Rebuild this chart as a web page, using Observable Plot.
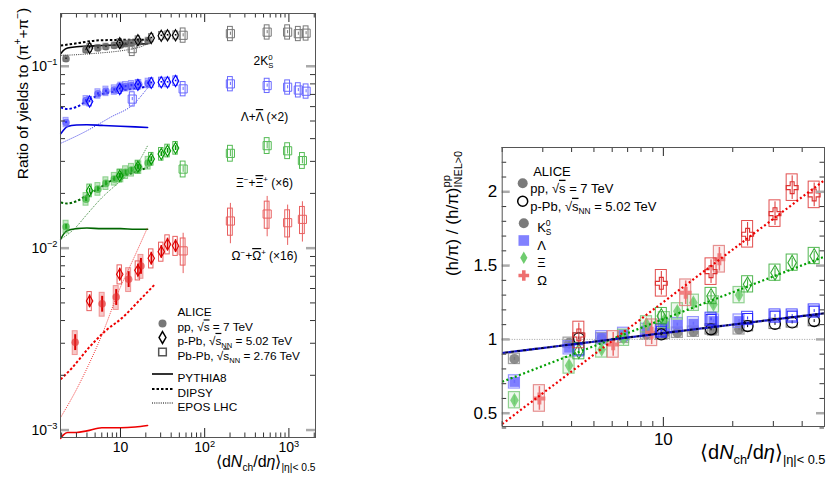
<!DOCTYPE html>
<html><head><meta charset="utf-8">
<script src="https://cdn.jsdelivr.net/npm/d3@7"></script>
<script src="https://cdn.jsdelivr.net/npm/@observablehq/plot@0.6"></script>
<style>
body{margin:0;background:#fff;}
#wrap{position:relative;width:826px;height:477px;overflow:hidden;}
#left{position:absolute;left:0;top:0;}
#right{position:absolute;left:410px;top:0;}
svg text{font-family:'Liberation Sans',Arial,Helvetica,sans-serif;}
</style></head><body><div id="wrap"><div id="left"></div><div id="right"></div></div>
<script>
// ================= DATA (left panel: ratio of yields to pions) =================
const ppMult = [2.26, 3.90, 5.40, 6.72, 8.45, 10.1, 11.5, 13.5, 16.5, 21.3];
const ppMultOmega = [2.9, 6.06, 8.9, 12.5, 17.5];
const pPbMult = [4.3, 9.8, 16.1, 23.2, 30.5, 36.2, 45.1];
const PbPbMult = [13.8, 55.5, 202, 552, 966, 1294, 1601];
const PbPbMultMS = [55.5, 202, 552, 966, 1447];

const k0s_pp = [0.110, 0.123, 0.126, 0.128, 0.130, 0.131, 0.133, 0.134, 0.136, 0.138];
const k0s_pPb = [0.126, 0.134, 0.139, 0.143, 0.147, 0.148, 0.148];
const k0s_PbPb = [0.125, 0.148, 0.151, 0.154, 0.154, 0.151, 0.152];
const lam_pp = [0.0491, 0.0647, 0.0705, 0.0729, 0.0741, 0.0767, 0.0773, 0.0783, 0.0793, 0.0806];
const lam_pPb = [0.064, 0.075, 0.079, 0.081, 0.0816, 0.0816, 0.083];
const lam_PbPb = [0.066, 0.0751, 0.080, 0.0783, 0.0767, 0.074, 0.0729];
const xi_pp = [0.0131, 0.0186, 0.0211, 0.0227, 0.0240, 0.0250, 0.0261, 0.0269, 0.0278, 0.0294];
const xi_pPb = [0.0207, 0.025, 0.028, 0.0309, 0.0329, 0.0343, 0.0355];
const xi_PbPb = [0.0272, 0.0332, 0.0366, 0.0343, 0.0303];
const om_pp = [0.00304, 0.00494, 0.00538, 0.00675, 0.00798];
const om_pPb = [0.00512, 0.00718, 0.00755, 0.00879, 0.00957, 0.0105, 0.0103];
const om_PbPb = [0.00966, 0.0141, 0.0154, 0.0138, 0.0144];

// model curves
const pythiaX = [1.95, 2.1, 2.35, 3.0, 4.0, 6.0, 10, 15, 21];
const pythia_k0s = [0.117, 0.122, 0.126, 0.128, 0.129, 0.130, 0.131, 0.132, 0.133];
const pythia_lam = [0.0425, 0.0445, 0.0466, 0.0475, 0.0477, 0.0473, 0.0468, 0.0464, 0.0461];
const pythia_xi = [0.0112, 0.0119, 0.0125, 0.0128, 0.0129, 0.0128, 0.0128, 0.0127, 0.0127];
const pythia_om = [0.00090, 0.00094, 0.00097, 0.00097, 0.00099, 0.00103, 0.00103, 0.00104, 0.00106];

const dipsyX_k0s = [1.95, 2.8, 5.8, 21];
const dipsy_k0s = [0.130, 0.133, 0.139, 0.140];
const dipsyX_lam = [1.95, 2.33, 3.06, 4.03, 5.79, 9.1, 21];
const dipsy_lam = [0.0594, 0.0582, 0.0600, 0.0647, 0.0699, 0.0728, 0.0773];
const dipsyX_xi = [1.95, 2.33, 3.06, 4.03, 5.79, 9.1, 14.4, 21];
const dipsy_xi = [0.0178, 0.0176, 0.0182, 0.0196, 0.0216, 0.0245, 0.0260, 0.0278];
const dipsyX_om = [1.95, 2.67, 4.2, 6.6, 10.5, 16.5, 26];
const dipsy_om = [0.0019, 0.0022, 0.00283, 0.0035, 0.00414, 0.00512, 0.00637];

const eposX_k0s = [1.95, 4.2, 16.5, 21];
const epos_k0s = [0.1146, 0.117, 0.127, 0.133];
const eposX_lam = [1.95, 3.67, 7.6, 14.4, 21];
const epos_lam = [0.0377, 0.0433, 0.0524, 0.0621, 0.0760];
const eposX_xi = [1.95, 2.8, 4.03, 5.79, 10, 14.4, 21];
const epos_xi = [0.0112, 0.0127, 0.0154, 0.0186, 0.0234, 0.0272, 0.0366];
const eposX_om = [1.95, 2.92, 4.2, 6.06, 9.55, 15.1, 21];
const epos_om = [0.001175, 0.00163, 0.00229, 0.00336, 0.00581, 0.00925, 0.0130];

// ================= DATA (right panel: double ratios) =================
const rK0S_pp = [0.868, 0.977, 1.007, 1.011, 1.034, 1.038, 1.045, 1.052, 1.061, 1.068];
const rLam_pp = [0.712, 0.943, 1.011, 1.034, 1.061, 1.090, 1.100, 1.106, 1.124, 1.124];
const rXi_pp = [0.588, 0.823, 0.932, 1.011, 1.102, 1.130, 1.190, 1.248, 1.237, 1.300];
const rOm_pp = [0.600, 0.966, 1.045, 1.316, 1.543];
const rK0S_pPb = [1.007, 1.034, 1.068, 1.090, 1.105, 1.115, 1.124];
const rLam_pPb = [0.930, 1.056, 1.136, 1.142, 1.158, 1.158, 1.192];
const rXi_pPb = [0.920, 1.158, 1.294, 1.373, 1.452, 1.520, 1.565];
const rOm_pPb = [1.030, 1.380, 1.459, 1.712, 1.852, 2.028, 1.979];
const fitMult = [2, 50];
const fitOm = [0.427, 2.079];
const fitXi = [0.713, 1.561];
const fitK0SLam = [0.908, 1.177];

// tick labels
const leftXTicks = [10, 100, 1000];
const leftYTicks = [0.001, 0.01, 0.1];
const rightXTicks = [10];
const rightYTicks = [0.5, 1, 1.5, 2];

// ================= helpers =================
const FONT = "'Liberation Sans', Arial, Helvetica, sans-serif";
function parseRich(s) {
  const out = []; let buf = ""; let i = 0;
  while (i < s.length) {
    const c = s[i];
    if ("_^~!".includes(c) && s[i + 1] === "{") {
      if (buf) { out.push({t: buf, k: ""}); buf = ""; }
      const j = s.indexOf("}", i + 2);
      out.push({t: s.slice(i + 2, j), k: c});
      i = j + 1;
    } else { buf += c; i++; }
  }
  if (buf) out.push({t: buf, k: ""});
  return out;
}
function richify(svg) {
  svg.querySelectorAll("text").forEach(el => {
    const s = el.textContent;
    if (!/[_^~!]\{/.test(s)) return;
    const segs = parseRich(s);
    const fs = parseFloat(getComputedStyle(el).fontSize) || 12;
    el.textContent = "";
    let cur = 0, prev = null, prevW = 0;
    for (const seg of segs) {
      const t = document.createElementNS("http://www.w3.org/2000/svg", "tspan");
      t.textContent = seg.t;
      let target = 0;
      if (seg.k === "_") { target = 0.25 * fs; t.setAttribute("font-size", 0.64 * fs); }
      else if (seg.k === "^") { target = -0.42 * fs; t.setAttribute("font-size", 0.66 * fs); }
      else if (seg.k === "~") t.setAttribute("font-style", "italic");
      else if (seg.k === "!") t.setAttribute("text-decoration", "overline");
      if (target !== cur) t.setAttribute("dy", target - cur);
      cur = target;
      if (seg.k === "_" && prev && prev.k === "^") t.setAttribute("dx", -prevW);
      el.appendChild(t);
      prevW = t.getComputedTextLength();
      prev = seg;
    }
  });
}
function logMinor(lo, hi) {
  const out = [];
  for (let k = -5; k <= 4; k++) for (let m = 2; m <= 9; m++) {
    const v = m * 10 ** k; if (v >= lo && v <= hi) out.push(v);
  }
  return out;
}
function tickRules(xMaj, xMin, yMaj, yMin, fw, fh, L) {
  return [
    Plot.ruleX(xMaj, {insetTop: fh - L.xMaj, stroke: "#222"}),
    Plot.ruleX(xMaj, {insetBottom: fh - L.xMaj, stroke: "#222"}),
    Plot.ruleX(xMin, {insetTop: fh - L.xMin, stroke: "#333"}),
    Plot.ruleX(xMin, {insetBottom: fh - L.xMin, stroke: "#333"}),
    Plot.ruleY(yMaj, {insetRight: fw - L.yMaj, stroke: "#aaa", strokeWidth: 2.5}),
    Plot.ruleY(yMaj, {insetLeft: fw - L.yMaj, stroke: "#aaa", strokeWidth: 2.5}),
    Plot.ruleY(yMin, {insetRight: fw - L.yMin, stroke: "#333"}),
    Plot.ruleY(yMin, {insetLeft: fw - L.yMin, stroke: "#333"})
  ];
}
const pts = (xs, ys) => xs.map((x, i) => ({x, y: ys[i]}));
const butt = {strokeLinecap: "butt", strokeLinejoin: "miter"};

// ================= LEFT PANEL =================
const L = {w: 330, h: 477, l: 60, r: 15, t: 13, b: 40};
const fwL = L.w - L.l - L.r, fhL = L.h - L.t - L.b;
const yDomL = [0.00091, 0.195];
const decL = 84.2; // px per decade (for box half-widths)
const speciesL = [
  {col: "#000000", ppCol: "#505050", boxCol: "#777777", ppX: ppMult, pp: k0s_pp, pPb: k0s_pPb, PbPbX: PbPbMult, PbPb: k0s_PbPb, sys: [0.04, 0.05, 0.09], stat: [0.01, 0.01, 0.02]},
  {col: "#0000ff", ppCol: "#4a4aff", boxCol: "#6a6aff", ppX: ppMult, pp: lam_pp, pPb: lam_pPb, PbPbX: PbPbMult, PbPb: lam_PbPb, sys: [0.06, 0.06, 0.09], stat: [0.015, 0.01, 0.02]},
  {col: "#009900", ppCol: "#33b033", boxCol: "#55bb55", ppX: ppMult, pp: xi_pp, pPb: xi_pPb, PbPbX: PbPbMultMS, PbPb: xi_PbPb, sys: [0.08, 0.08, 0.1], stat: [0.03, 0.03, 0.04]},
  {col: "#dd0000", ppCol: "#e33030", boxCol: "#e86060", ppX: ppMultOmega, pp: om_pp, pPb: om_pPb, PbPbX: PbPbMultMS, PbPb: om_PbPb, sys: [0.15, 0.12, 0.17], stat: [0.1, 0.08, 0.25]}
];
const modelsL = [
  {col: "#000000", p: [pythiaX, pythia_k0s], d: [dipsyX_k0s, dipsy_k0s], e: [eposX_k0s, epos_k0s]},
  {col: "#0000dd", p: [pythiaX, pythia_lam], d: [dipsyX_lam, dipsy_lam], e: [eposX_lam, epos_lam]},
  {col: "#006600", p: [pythiaX, pythia_xi], d: [dipsyX_xi, dipsy_xi], e: [eposX_xi, epos_xi]},
  {col: "#ee0000", p: [pythiaX, pythia_om], d: [dipsyX_om, dipsy_om], e: [eposX_om, epos_om]}
];
const marksL = [];
for (const m of modelsL) {
  marksL.push(Plot.line(pts(...m.e), {x: "x", y: "y", stroke: m.col, strokeWidth: 1, strokeDasharray: "1,1.2", curve: "monotone-x", strokeOpacity: 0.8, ...butt}));
  marksL.push(Plot.line(pts(...m.d), {x: "x", y: "y", stroke: m.col, strokeWidth: 2, strokeDasharray: "2.5,2", curve: "monotone-x", ...butt}));
  marksL.push(Plot.line(pts(...m.p), {x: "x", y: "y", stroke: m.col, strokeWidth: 1.6, curve: "monotone-x"}));
}
for (const s of speciesL) {
  const sets = [
    {d: pts(s.ppX, s.pp), hw: 2.5},
    {d: pts(pPbMult, s.pPb), hw: 2.2},
    {d: pts(s.PbPbX, s.PbPb), hw: 2.4}
  ];
  // pp: translucent filled boxes, filled circles
  const a = sets[0], fa = 10 ** (a.hw / decL);
  marksL.push(Plot.rect(a.d, {x1: d => d.x / fa, x2: d => d.x * fa, y1: d => d.y * (1 - s.sys[0]), y2: d => d.y * (1 + s.sys[0]), fill: s.boxCol, fillOpacity: 0.35, stroke: s.boxCol, strokeOpacity: 0.6}));
  marksL.push(Plot.ruleX(a.d, {x: "x", y1: d => d.y * (1 - s.stat[0]), y2: d => d.y * (1 + s.stat[0]), stroke: s.col, strokeWidth: 2}));
  marksL.push(Plot.dot(a.d, {x: "x", y: "y", r: 3.8, fill: s.ppCol, fillOpacity: 0.65}));
  // p-Pb: open boxes, open diamonds
  const b = sets[1], fb = 10 ** (b.hw / decL);
  marksL.push(Plot.rect(b.d, {x1: d => d.x / fb, x2: d => d.x * fb, y1: d => d.y * (1 - s.sys[1]), y2: d => d.y * (1 + s.sys[1]), fill: "none", stroke: s.boxCol, strokeWidth: 1}));
  marksL.push(Plot.ruleX(b.d, {x: "x", y1: d => d.y * (1 - s.stat[1]), y2: d => d.y * (1 + s.stat[1]), stroke: s.col, strokeWidth: 1.5}));
  marksL.push(Plot.dot(b.d, {x: "x", y: "y", r: 3.4, symbol: "diamond", fill: "none", stroke: s.col, strokeWidth: 1.1}));
  // Pb-Pb: open boxes, open squares
  const c = sets[2], fc = 10 ** (c.hw / decL);
  marksL.push(Plot.rect(c.d, {x1: d => d.x / fc, x2: d => d.x * fc, y1: d => d.y * (1 - s.sys[2]), y2: d => d.y * (1 + s.sys[2]), fill: "none", stroke: s.boxCol, strokeWidth: 1}));
  marksL.push(Plot.ruleX(c.d, {x: "x", y1: d => d.y * (1 - s.stat[2]), y2: d => d.y * (1 + s.stat[2]), stroke: s.boxCol, strokeWidth: 1}));
  marksL.push(Plot.dot(c.d, {x: "x", y: "y", r: 4.6, symbol: "square", fill: "none", stroke: s.boxCol, strokeWidth: 1}));
}
// annotations
const annL = [
  {t: "2K^{0}_{S}", dx: 203, dy: 43},
  {t: "Λ+!{Λ} (×2)", dx: 204, dy: 99},
  {t: "Ξ^{−}+!{Ξ}^{+} (×6)", dx: 204, dy: 165},
  {t: "Ω^{−}+!{Ω}^{+} (×16)", dx: 204, dy: 238}
];
for (const a of annL) marksL.push(Plot.text([a.t], {text: d => d, frameAnchor: "top-left", dx: a.dx, dy: a.dy, fontSize: 12, textAnchor: "middle"}));
// legend
const legL = [
  {t: "ALICE", dy: 294},
  {t: "pp, √!{s} = 7 TeV", dy: 309.5},
  {t: "p-Pb, √!{s}_{NN} = 5.02 TeV", dy: 323},
  {t: "Pb-Pb, √!{s}_{NN} = 2.76 TeV", dy: 338.5},
  {t: "PYTHIA8", dy: 360},
  {t: "DIPSY", dy: 375},
  {t: "EPOS LHC", dy: 389}
];
for (const g of legL) marksL.push(Plot.text([g.t], {text: d => d, frameAnchor: "top-left", dx: 117, dy: g.dy, fontSize: 11.8, textAnchor: "start"}));
marksL.push(Plot.dot([0], {frameAnchor: "top-left", dx: 102, dy: 310, r: 4, fill: "#777"}));
marksL.push(Plot.dot([0], {frameAnchor: "top-left", dx: 102, dy: 324, r: 3.6, symbol: "diamond", fill: "none", stroke: "#000"}));
marksL.push(Plot.dot([0], {frameAnchor: "top-left", dx: 102, dy: 338.5, r: 4.3, symbol: "square", fill: "none", stroke: "#555"}));
const yTopL = yDomL[1];
marksL.push(Plot.ruleY([yTopL], {dy: 360.5, insetLeft: 92, insetRight: fwL - 113, stroke: "#000", strokeWidth: 1.6}));
marksL.push(Plot.ruleY([yTopL], {dy: 375.5, insetLeft: 92, insetRight: fwL - 113, stroke: "#000", strokeWidth: 2, strokeDasharray: "2.5,2", ...butt}));
marksL.push(Plot.ruleY([yTopL], {dy: 389.5, insetLeft: 92, insetRight: fwL - 113, stroke: "#000", strokeWidth: 1, strokeDasharray: "1,1.2", ...butt}));
// axis titles
marksL.push(Plot.text(["Ratio of yields to (π^{+}+π^{−})"], {text: d => d, frameAnchor: "top-left", dx: -33, dy: 80, rotate: -90, fontSize: 15.5, textAnchor: "middle", lineAnchor: "bottom"}));
marksL.push(Plot.text(["⟨d~{N}_{ch}/d~{η}⟩_{|η|< 0.5}"], {text: d => d, frameAnchor: "bottom-right", dx: 0, dy: 29, fontSize: 16, textAnchor: "end", lineAnchor: "bottom"}));
marksL.push(...tickRules(leftXTicks, logMinor(1.94, 2070), leftYTicks, logMinor(yDomL[0], yDomL[1]), fwL, fhL, {xMaj: 9, xMin: 4.5, yMaj: 9, yMin: 5}));
marksL.push(Plot.frame({stroke: "#555"}));

const left = Plot.plot({
  width: L.w, height: L.h, marginLeft: L.l, marginRight: L.r, marginTop: L.t, marginBottom: L.b,
  style: {fontFamily: FONT, fontSize: "14px", background: "transparent", overflow: "visible", color: "#000"},
  x: {type: "log", domain: [1.94, 2070], ticks: leftXTicks, tickSize: 0, tickPadding: 5, label: null,
      tickFormat: d => d === 10 ? "10" : "10^{" + Math.round(Math.log10(d)) + "}"},
  y: {type: "log", domain: yDomL, ticks: leftYTicks, tickSize: 0, tickPadding: 3, label: null,
      tickFormat: d => "10^{−" + Math.round(-Math.log10(d)) + "}"},
  marks: marksL
});
document.getElementById("left").appendChild(left);
richify(left);

// ================= RIGHT PANEL =================
const R = {w: 416, h: 477, l: 91.7, r: 2, t: 147, b: 51};
const fwR = R.w - R.l - R.r, fhR = R.h - R.t - R.b;
const decR = 230.6;
const yDomR = [0.41, 2.3];
const speciesR = [
  {ppX: ppMult, pp: rK0S_pp, pPb: rK0S_pPb, fill: "#7a7a7a", box: "#8c8c8c", col: "#000000", sym: "circle", r: 5, rO: 5.5, sys: 0.035, stat: 0.01},
  {ppX: ppMult, pp: rLam_pp, pPb: rLam_pPb, fill: "#6b6bff", box: "#7d7dff", col: "#2a2aff", sym: "square", r: 5.6, rO: 5.6, sys: 0.045, stat: 0.01},
  {ppX: ppMult, pp: rXi_pp, pPb: rXi_pPb, fill: "#6fcc6f", box: "#77c777", col: "#33aa33", sym: "diamond", r: 4.5, rO: 4.5, sys: 0.055, stat: 0.03},
  {ppX: ppMultOmega, pp: rOm_pp, pPb: rOm_pPb, fill: "#ee7070", box: "#e07777", col: "#dd3030", sym: "cross", r: 5, rO: 5, sys: 0.09, stat: 0.08}
];
const marksR = [];
marksR.push(Plot.ruleY([1], {stroke: "#888", strokeWidth: 0.8, strokeDasharray: "1,1.5"}));
const fR = 10 ** (5.5 / decR);
for (const s of speciesR) {
  const a = pts(s.ppX, s.pp);
  marksR.push(Plot.rect(a, {x1: d => d.x / fR, x2: d => d.x * fR, y1: d => d.y - s.sys, y2: d => d.y + s.sys, fill: s.box, fillOpacity: 0.12, stroke: s.box, strokeWidth: 1.2, strokeOpacity: 0.8}));
  marksR.push(Plot.ruleX(a, {x: "x", y1: d => d.y - s.stat, y2: d => d.y + s.stat, stroke: s.fill, strokeWidth: 1.5}));
  marksR.push(Plot.dot(a, {x: "x", y: "y", r: s.r, symbol: s.sym, fill: s.fill, fillOpacity: 0.85}));
}
for (const s of speciesR) {
  const b = pts(pPbMult, s.pPb);
  marksR.push(Plot.rect(b, {x1: d => d.x / fR, x2: d => d.x * fR, y1: d => d.y - s.sys, y2: d => d.y + s.sys, fill: "none", stroke: s.col === "#000000" ? "#555" : s.col, strokeWidth: 1, strokeOpacity: 0.85}));
  marksR.push(Plot.ruleX(b, {x: "x", y1: d => d.y - s.stat, y2: d => d.y + s.stat, stroke: s.col, strokeWidth: 1}));
  marksR.push(Plot.dot(b, {x: "x", y: "y", r: s.rO, symbol: s.sym, fill: "none", stroke: s.col, strokeWidth: 1.1}));
}
// fits
marksR.push(Plot.line(pts(fitMult, fitOm), {x: "x", y: "y", stroke: "#ee0000", strokeWidth: 2.2, strokeDasharray: "2,2.5", ...butt}));
marksR.push(Plot.line(pts(fitMult, fitXi), {x: "x", y: "y", stroke: "#00a000", strokeWidth: 2.2, strokeDasharray: "2,2.5", ...butt}));
marksR.push(Plot.line(pts(fitMult, fitK0SLam), {x: "x", y: "y", stroke: "#1010cc", strokeWidth: 2.2, strokeDasharray: "3,3", ...butt}));
marksR.push(Plot.line(pts(fitMult, fitK0SLam), {x: "x", y: "y", stroke: "#000044", strokeWidth: 2.2, strokeDasharray: "3,3", strokeDashoffset: 3, ...butt}));
// legend
const legR = [
  {t: "ALICE", dx: 31, dy: 19},
  {t: "pp, √!{s} = 7 TeV", dx: 28, dy: 36},
  {t: "p-Pb, √!{s}_{NN} = 5.02 TeV", dx: 28, dy: 54},
  {t: "K^{0}_{S}", dx: 35, dy: 75},
  {t: "Λ", dx: 35, dy: 93},
  {t: "Ξ", dx: 35, dy: 110.5},
  {t: "Ω", dx: 35, dy: 128}
];
for (const g of legR) marksR.push(Plot.text([g.t], {text: d => d, frameAnchor: "top-left", dx: g.dx, dy: g.dy, fontSize: 13, textAnchor: "start"}));
marksR.push(Plot.dot([0], {frameAnchor: "top-left", dx: 20.5, dy: 35.7, r: 5, fill: "#7a7a7a"}));
marksR.push(Plot.dot([0], {frameAnchor: "top-left", dx: 20.5, dy: 53.7, r: 5, fill: "none", stroke: "#000"}));
marksR.push(Plot.dot([0], {frameAnchor: "top-left", dx: 21.6, dy: 75.7, r: 5, fill: "#7a7a7a"}));
marksR.push(Plot.dot([0], {frameAnchor: "top-left", dx: 21.6, dy: 93, r: 6, symbol: "square", fill: "#6b6bff", fillOpacity: 0.85}));
marksR.push(Plot.dot([0], {frameAnchor: "top-left", dx: 21.6, dy: 110.3, r: 3.8, symbol: "diamond", fill: "#6fcc6f"}));
marksR.push(Plot.dot([0], {frameAnchor: "top-left", dx: 21.6, dy: 128, r: 4.5, symbol: "cross", fill: "#ee7070"}));
// axis titles
marksR.push(Plot.text(["(h/π) / (h/π)^{pp}_{INEL>0}"], {text: d => d, frameAnchor: "top-left", dx: -44.7, dy: 66, rotate: -90, fontSize: 17, textAnchor: "middle", lineAnchor: "bottom"}));
marksR.push(Plot.text(["⟨d~{N}_{ch}/d~{η}⟩_{|η|< 0.5}"], {text: d => d, frameAnchor: "bottom-right", dx: 1, dy: 32, fontSize: 20, textAnchor: "end", lineAnchor: "bottom"}));
marksR.push(...tickRules(rightXTicks, logMinor(2, 50), rightYTicks, d3.range(4, 24).map(d => d / 10).filter(d => d % 0.5 !== 0), fwR, fhR, {xMaj: 9, xMin: 5, yMaj: 8, yMin: 4.5}));
marksR.push(Plot.frame({stroke: "#555"}));

const right = Plot.plot({
  width: R.w, height: R.h, marginLeft: R.l, marginRight: R.r, marginTop: R.t, marginBottom: R.b,
  style: {fontFamily: FONT, fontSize: "17px", background: "transparent", overflow: "visible", color: "#000"},
  x: {type: "log", domain: [2, 50], ticks: rightXTicks, tickSize: 0, tickPadding: 6, label: null, tickFormat: d => String(d)},
  y: {type: "linear", domain: yDomR, ticks: rightYTicks, tickSize: 0, tickPadding: 5, label: null, tickFormat: d => String(d)},
  marks: marksR
});
document.getElementById("right").appendChild(right);
richify(right);
</script></body></html>
